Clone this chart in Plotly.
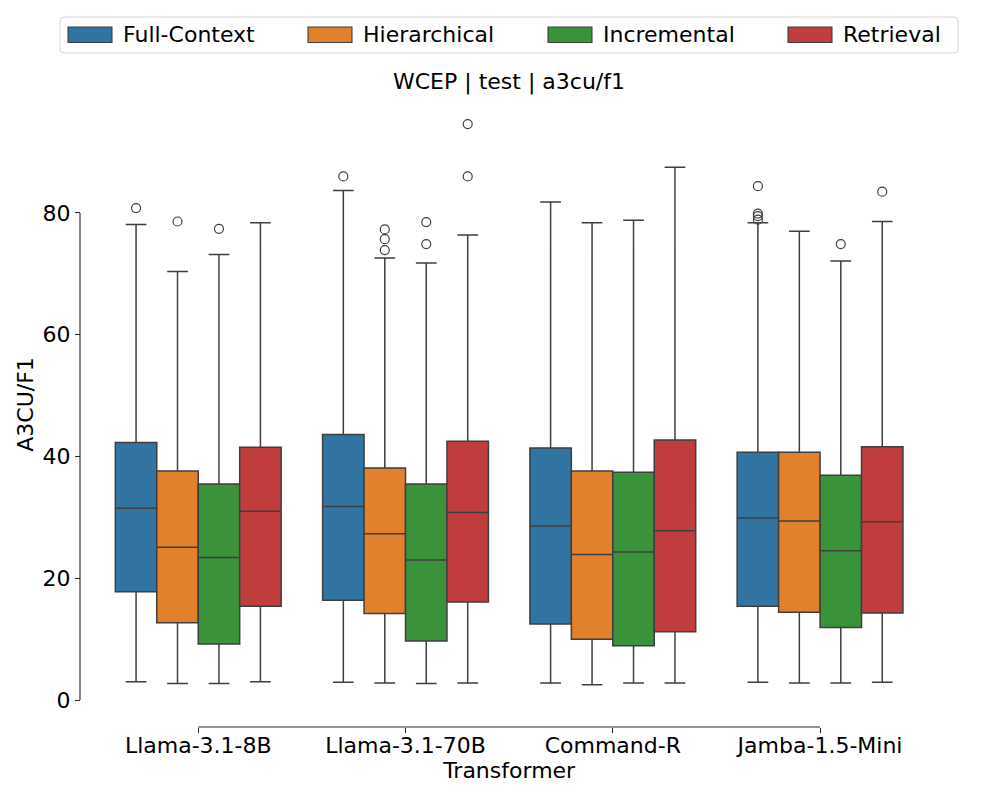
import plotly.graph_objects as go

# Modèles (axe x) et méthodes (couleurs)
models = ["Llama-3.1-8B", "Llama-3.1-70B", "Command-R", "Jamba-1.5-Mini"]
methods = ["Full-Context", "Hierarchical", "Incremental", "Retrieval"]
colors = ["#3274a1", "#e1812c", "#3a923a", "#c03d3e"]

# Statistiques des boîtes, une liste par méthode (ordre des modèles)
fc_low = [3.0, 2.9, 2.8, 2.9]
fc_q1 = [17.8, 16.4, 12.5, 15.4]
fc_med = [31.5, 31.8, 28.6, 29.9]
fc_q3 = [42.3, 43.6, 41.4, 40.7]
fc_up = [78.1, 83.7, 81.8, 78.4]

hi_low = [2.7, 2.8, 2.5, 2.8]
hi_q1 = [12.7, 14.2, 10.0, 14.4]
hi_med = [25.1, 27.3, 23.9, 29.4]
hi_q3 = [37.6, 38.1, 37.6, 40.7]
hi_up = [70.4, 72.6, 78.4, 77.0]

in_low = [2.7, 2.7, 2.8, 2.8]
in_q1 = [9.2, 9.7, 8.9, 11.9]
in_med = [23.4, 23.0, 24.3, 24.5]
in_q3 = [35.5, 35.5, 37.4, 36.9]
in_up = [73.2, 71.8, 78.8, 72.1]

re_low = [3.0, 2.8, 2.8, 2.9]
re_q1 = [15.4, 16.1, 11.2, 14.3]
re_med = [31.0, 30.8, 27.8, 29.3]
re_q3 = [41.5, 42.5, 42.7, 41.6]
re_up = [78.4, 76.4, 87.5, 78.6]

# Valeurs aberrantes (modèle, valeur)
fc_out_x = ["Llama-3.1-8B", "Llama-3.1-70B", "Jamba-1.5-Mini", "Jamba-1.5-Mini", "Jamba-1.5-Mini", "Jamba-1.5-Mini"]
fc_out_y = [80.8, 86.0, 84.4, 79.9, 79.5, 78.9]
hi_out_x = ["Llama-3.1-8B", "Llama-3.1-70B", "Llama-3.1-70B", "Llama-3.1-70B"]
hi_out_y = [78.6, 77.3, 75.7, 73.9]
in_out_x = ["Llama-3.1-8B", "Llama-3.1-70B", "Llama-3.1-70B", "Jamba-1.5-Mini"]
in_out_y = [77.4, 78.5, 74.9, 74.9]
re_out_x = ["Llama-3.1-70B", "Llama-3.1-70B", "Jamba-1.5-Mini"]
re_out_y = [94.6, 86.0, 83.5]

y_ticks = [0, 20, 40, 60, 80]

stats = [
    (fc_low, fc_q1, fc_med, fc_q3, fc_up, fc_out_x, fc_out_y),
    (hi_low, hi_q1, hi_med, hi_q3, hi_up, hi_out_x, hi_out_y),
    (in_low, in_q1, in_med, in_q3, in_up, in_out_x, in_out_y),
    (re_low, re_q1, re_med, re_q3, re_up, re_out_x, re_out_y),
]

FONT = "DejaVu Sans"
FS = 22
INK = "#262626"
EDGE = "#3f3f3f"

# Placement en pixels : zone papier 40..960 x 80..740
# (la page HTML ajoute une marge de 8 px, on la compense)
W, H = 920, 660
L, T = 40, 80
OFF = 8


def px_x(x):
    return (x - OFF - L) / W


def px_y(y):
    return (T + H - (y - OFF)) / H


def rounded_rect(x0, y0, x1, y1, r):
    # chemin SVG (coordonnées papier) d'un rectangle à coins arrondis
    pts = [
        f"M{px_x(x0 + r)},{px_y(y0)}",
        f"L{px_x(x1 - r)},{px_y(y0)}",
        f"Q{px_x(x1)},{px_y(y0)} {px_x(x1)},{px_y(y0 + r)}",
        f"L{px_x(x1)},{px_y(y1 - r)}",
        f"Q{px_x(x1)},{px_y(y1)} {px_x(x1 - r)},{px_y(y1)}",
        f"L{px_x(x0 + r)},{px_y(y1)}",
        f"Q{px_x(x0)},{px_y(y1)} {px_x(x0)},{px_y(y1 - r)}",
        f"L{px_x(x0)},{px_y(y0 + r)}",
        f"Q{px_x(x0)},{px_y(y0)} {px_x(x0 + r)},{px_y(y0)}",
        "Z",
    ]
    return " ".join(pts)


fig = go.Figure()

# Boîtes
for name, color, (low, q1, med, q3, up, ox, oy) in zip(methods, colors, stats):
    fig.add_trace(go.Box(
        name=name,
        x=models,
        lowerfence=low,
        q1=q1,
        median=med,
        q3=q3,
        upperfence=up,
        fillcolor=color,
        line=dict(color=EDGE, width=1.5),
        whiskerwidth=0.5,
        boxpoints=False,
        offsetgroup=name,
        showlegend=False,
    ))

# Points aberrants (cercles vides)
for name, (low, q1, med, q3, up, ox, oy) in zip(methods, stats):
    fig.add_trace(go.Scatter(
        x=ox,
        y=oy,
        mode="markers",
        marker=dict(symbol="circle-open", size=9, color=EDGE, line=dict(width=1.2)),
        offsetgroup=name,
        showlegend=False,
        hoverinfo="y",
    ))

fig.update_layout(
    width=1000,
    height=800,
    margin=dict(l=L, r=1000 - L - W, t=T, b=800 - T - H, autoexpand=False),
    plot_bgcolor="white",
    paper_bgcolor="white",
    font=dict(family=FONT, size=FS, color="black"),
    boxmode="group",
    boxgap=0.2,
    boxgroupgap=0,
    scattermode="group",
    scattergap=0.2,
    showlegend=False,
    title=dict(
        text="WCEP | test | a3cu/f1",
        x=(509 - OFF) / 1000, xref="container", xanchor="center",
        y=1 - (81 - OFF) / 800, yref="container", yanchor="middle",
        font=dict(size=FS, color="black"),
    ),
    xaxis=dict(
        domain=[px_x(94.6), px_x(923.7)],
        anchor="free",
        position=px_y(727),
        range=[-0.5, 3.5],
        showline=False,
        showgrid=False,
        zeroline=False,
        ticks="outside",
        ticklen=5,
        tickwidth=1.1,
        tickcolor=INK,
        ticklabelstandoff=-6,
        tickfont=dict(size=FS, color="black"),
        title=dict(text="Transformer", standoff=4, font=dict(size=FS)),
    ),
    yaxis=dict(
        domain=[px_y(712.8), px_y(96.1)],
        anchor="free",
        position=px_x(80),
        range=[-2.1, 99.2],
        tickvals=y_ticks,
        showline=False,
        showgrid=False,
        zeroline=False,
        ticks="outside",
        ticklen=5,
        tickwidth=1.1,
        tickcolor=INK,
        tickfont=dict(size=FS, color="black"),
        title=dict(text="A3CU/F1", standoff=1, font=dict(size=FS)),
    ),
)

# Axes "trimmés" façon seaborn (despine trim)
fig.add_shape(type="line", xref="paper", yref="y",
              x0=px_x(80), x1=px_x(80), y0=min(y_ticks), y1=max(y_ticks),
              line=dict(color=INK, width=1.1))
fig.add_shape(type="line", xref="x", yref="paper",
              x0=0, x1=len(models) - 1, y0=px_y(727), y1=px_y(727),
              line=dict(color=INK, width=1.1))

# Légende en haut, dessinée comme celle de matplotlib (patchs larges)
fig.add_shape(type="path", xref="paper", yref="paper",
              path=rounded_rect(60, 17, 958, 53, 4),
              line=dict(color="#d6d6d6", width=1), fillcolor="white", layer="below")
for i, (name, color) in enumerate(zip(methods, colors)):
    x0 = 68 + i * 240
    fig.add_shape(type="rect", xref="paper", yref="paper",
                  x0=px_x(x0), x1=px_x(x0 + 44), y0=px_y(42.5), y1=px_y(27),
                  fillcolor=color, line=dict(color=EDGE, width=1.1))
    fig.add_annotation(text=name, xref="paper", yref="paper",
                       x=px_x(x0 + 53), y=px_y(35), xanchor="left", yanchor="middle",
                       showarrow=False, font=dict(size=FS, color="black"))

fig.write_html("out.html")
